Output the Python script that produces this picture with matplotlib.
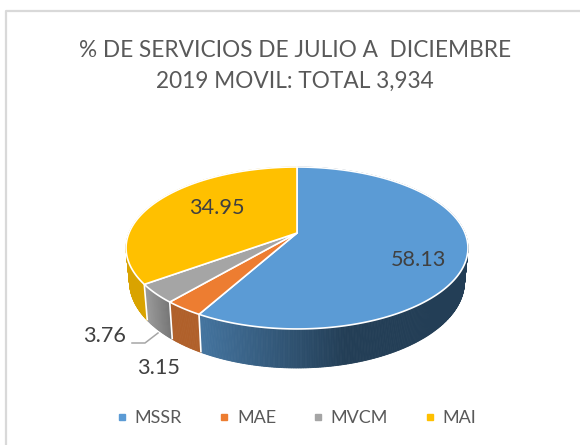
import numpy as np
import matplotlib
matplotlib.use("Agg")
import matplotlib.pyplot as plt
from matplotlib.lines import Line2D
from matplotlib.colors import to_rgb

categories = ["MSSR", "MAE", "MVCM", "MAI"]
values = [58.13, 3.15, 3.76, 34.95]
label_texts = ["58.13", "3.15", "3.76", "34.95"]
top_colors = ["#5B9BD5", "#ED7D31", "#A5A5A5", "#FFC000"]
wall_left = ["#44749F", "#B0602A", "#9C9C9C", "#D9A300"]
wall_right = ["#233E56", "#B0602A", "#747474", "#D9A300"]
title = "% DE SERVICIOS DE JULIO A  DICIEMBRE\n2019 MOVIL: TOTAL 3,934"

plt.rcParams["font.family"] = ["Lato", "DejaVu Sans"]

fig = plt.figure(figsize=(5.8, 4.45), dpi=100)
ax = fig.add_axes([0, 0, 1, 1])
ax.set_xlim(0, 580)
ax.set_ylim(445, 0)
ax.axis("off")

CX, CY, A, B, K = 297.0, 233.0, 168.0, 78.2, 0.185
SX, SY, D = 0.98, 1.067, 32.6


def top_xy(theta):
    """Perspective projection of a unit-disc point; theta clockwise from 12 o'clock."""
    x, y = np.sin(theta), np.cos(theta)
    den = 1 + K * y
    return CX + A * x / den, CY - B * y / den


def bottom_xy(theta):
    x, y = top_xy(theta)
    return CX + (x - CX) * SX, CY + D + (y - CY) * SY


edges = np.concatenate([[0], np.cumsum(values)]) / np.sum(values) * 2 * np.pi

# frame
ax.add_line(Line2D([5.5, 5.5, 580], [445, 10.5, 10.5], color="#D9D9D9", lw=1.6, zorder=0))

# side walls, as thin strips shaded along x
GRAD_X0, GRAD_X1 = 200.0, 345.0
for i in range(len(values)):
    t = np.linspace(edges[i], edges[i + 1], max(int((edges[i + 1] - edges[i]) * 120), 8))
    c0, c1 = np.array(to_rgb(wall_left[i])), np.array(to_rgb(wall_right[i]))
    if i == 0:
        x0, x1 = GRAD_X0, GRAD_X1
    else:
        xs = top_xy(t)[0]
        x0, x1 = xs.min(), xs.max()
    for a, b in zip(t[:-1], t[1:]):
        xa, ya = top_xy(a)
        xb, yb = top_xy(b)
        xc, yc = bottom_xy(b)
        xd, yd = bottom_xy(a)
        f = np.clip((0.5 * (xa + xb) - x0) / (x1 - x0), 0, 1)
        col = c0 + (c1 - c0) * f
        ax.fill([xa, xb, xc, xd], [ya, yb, yc, yd], color=col, lw=0.6, zorder=1)

# white separators on the visible wall
for e in edges[1:-1]:
    x, y = top_xy(e)
    x2, y2 = bottom_xy(e)
    ax.plot([x, x2], [y, y2], color="white", lw=1.2, zorder=2, solid_capstyle="butt")

# top faces
for i in range(len(values)):
    t = np.linspace(edges[i], edges[i + 1], 200)
    x, y = top_xy(t)
    ax.fill(np.r_[CX, x], np.r_[CY, y], facecolor=top_colors[i], edgecolor="white",
            lw=1.2, joinstyle="round", zorder=3)

# leader line
ax.plot([132, 145, 158], [343, 343, 333], color="#A6A6A6", lw=1.1, zorder=4)

# data labels
label_pos = [(419, 260), (159, 368), (105, 336), (217, 208)]
for txt, (lx, ly) in zip(label_texts, label_pos):
    ax.text(lx, ly, txt, ha="center", va="center", fontsize=15.6, color="#404040", zorder=5)

# title
ax.text(295, 66, title, ha="center", va="center", fontsize=16.3, color="#595959",
        linespacing=1.62, zorder=5)

# legend
handles = [Line2D([], [], ls="none", marker="s", ms=5, color=c) for c in top_colors]
ax.legend(handles, categories, loc="center", bbox_to_anchor=(294 / 580, 1 - 418 / 445),
          ncol=4, frameon=False, fontsize=13, labelcolor="#595959", handletextpad=0.1,
          columnspacing=1.73, handlelength=1.2)

fig.savefig("out.png", dpi=100)
